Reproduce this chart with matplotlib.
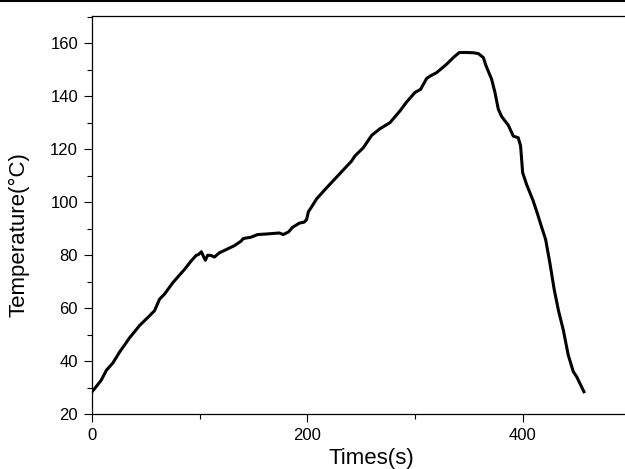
import matplotlib
matplotlib.use('Agg')
import matplotlib.pyplot as plt
from matplotlib.lines import Line2D
from matplotlib.ticker import MultipleLocator

plt.rcParams['font.family'] = ['Liberation Sans', 'DejaVu Sans']

# values
time_s = [0, 2.5, 8.6, 13.3, 19.4, 25.6, 34.9, 44.1, 51.9, 58, 62.7, 67.3, 75,
          81.2, 85.8, 92, 96.6, 99, 101.5, 103.4, 105.2, 107.4, 110.5, 113.6,
          118.2, 124.4, 132.1, 138.3, 140.4, 147.5, 153.7, 161.4, 173.8, 177.5,
          182.4, 186.1, 192.3, 196.9, 199.1, 200.9, 202.3, 208.5, 217.8, 230.2,
          241, 244, 251.8, 259.6, 267.3, 276.6, 285.8, 292, 299.8, 305, 310.6,
          314.3, 319.9, 329.2, 335.4, 340.9, 347.7, 353.9, 358.5, 363.2, 365.7,
          370.9, 374, 377.1, 380.2, 386.4, 391, 395.6, 397.8, 399.7, 403.4,
          409.6, 414.2, 417, 421, 425, 429, 433, 437.4, 442, 446.7, 449.8, 456.6]
temp_c = [28.4, 29.6, 32.8, 36.5, 39.3, 43.4, 48.8, 53.4, 56.5, 59, 63.4, 65.3,
          69.6, 72.5, 74.6, 77.8, 79.9, 80.3, 81.3, 79.6, 78.1, 80, 79.9, 79.3,
          80.9, 82.1, 83.6, 85.3, 86.3, 86.8, 87.8, 88, 88.4, 87.8, 88.8, 90.5,
          92.1, 92.5, 93.4, 96.5, 97.3, 101.3, 105.5, 110.9, 115.6, 117.5, 120.6,
          125.3, 127.8, 130.1, 134.5, 137.9, 141.5, 142.7, 146.8, 147.8, 149,
          152.2, 154.7, 156.6, 156.6, 156.5, 156.2, 154.7, 151.6, 146.5, 141.5,
          135.2, 132.4, 129.1, 125, 124.4, 121.3, 111.2, 106.7, 100.4, 94.7, 91,
          86, 77, 67, 59, 51.8, 42.3, 36, 34.1, 28.4]

fig = plt.figure(figsize=(6.25, 4.69), dpi=100)
ax = fig.add_axes([0.1472, 0.1173, 0.8528, 0.8492])

ax.plot(time_s, temp_c, color='black', lw=2.2, solid_joinstyle='round')

ax.set_xlim(0, 494.7)
ax.set_ylim(20, 170.5)
ax.xaxis.set_major_locator(MultipleLocator(200))
ax.xaxis.set_minor_locator(MultipleLocator(100))
ax.yaxis.set_major_locator(MultipleLocator(20))
ax.yaxis.set_minor_locator(MultipleLocator(10))
ax.tick_params(which='major', direction='out', length=6, width=0.8,
               labelsize=12, pad=4)
ax.tick_params(which='minor', direction='out', length=3.5, width=0.8)
ax.spines['right'].set_visible(False)
for s in ['left', 'bottom', 'top']:
    ax.spines[s].set_linewidth(0.9)

ax.set_xlabel('Times(s)', fontsize=16)
ax.xaxis.set_label_coords(0.525, -0.085)
ax.set_ylabel('Temperature(\u00b0C)', fontsize=16)
ax.yaxis.set_label_coords(-0.118, 0.45)

fig.add_artist(Line2D([0, 1], [0.998, 0.998], transform=fig.transFigure,
                      color='black', lw=1.5))

fig.savefig('out.png', dpi=100)
